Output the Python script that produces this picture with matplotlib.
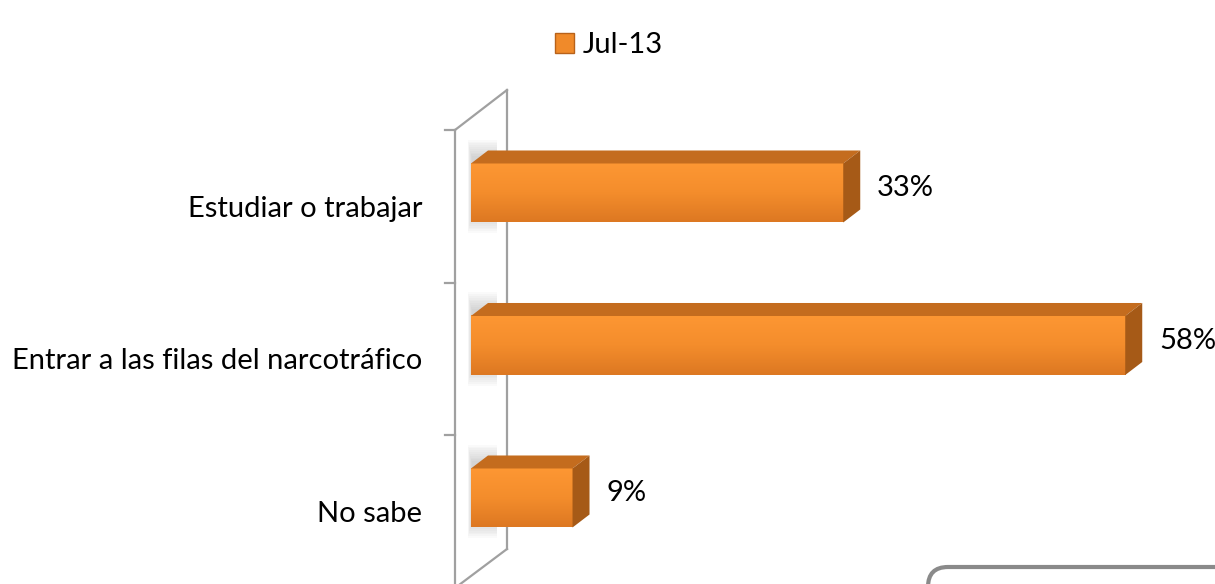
import numpy as np
import matplotlib
matplotlib.use("Agg")
import matplotlib.pyplot as plt
from matplotlib.patches import Polygon, Patch, FancyBboxPatch
from matplotlib.lines import Line2D
from matplotlib.transforms import Affine2D
from matplotlib.colors import LinearSegmentedColormap

categories = ["Estudiar o trabajar", "Entrar a las filas del narcotráfico", "No sabe"]
values = [33, 58, 9]
series_name = "Jul-13"

W, H = 1215, 584
plt.rcParams['font.family'] = ['Lato', 'DejaVu Sans']
fs = 21

fig = plt.figure(figsize=(W / 100, H / 100), dpi=100)

# pixel layout
x0_px, px_per_pct = 471, 11.28
top_px, band_px = 130, 152.5
xmax = 60
ax = fig.add_axes([x0_px / W, 1 - (top_px + 3 * band_px) / H,
                   xmax * px_per_pct / W, 3 * band_px / H])

# 3d depth offset in data units
dx = 17 / px_per_pct
dy = -13 / band_px
bar_h = 59 / band_px
offs = 0.413

front_cmap = LinearSegmentedColormap.from_list("front", ["#FD9733", "#F48D2C", "#DD7822"])
grad = np.linspace(0, 1, 64).reshape(-1, 1)

for i, v in enumerate(values):
    yc = i + offs
    top = yc - bar_h / 2
    bot = yc + bar_h / 2
    # soft shadow on the wall, behind the bar
    for k in range(10):
        sx = 0.04 * k
        sy = 0.012 * k
        ax.add_patch(Polygon([(-0.3 + sx, top + dy - 0.07 + sy),
                              (dx + 0.8, top + dy - 0.07 + sy),
                              (dx + 0.8, bot + 0.07 - sy),
                              (-0.3 + sx, bot + 0.07 - sy)],
                             closed=True, facecolor="#808080", alpha=0.035,
                             edgecolor="none", clip_on=False, zorder=2))
    # front face
    ax.imshow(grad, cmap=front_cmap, aspect="auto", extent=(0, v, bot, top),
              zorder=3, interpolation="bicubic")
    # top face
    ax.add_patch(Polygon([(0, top), (v, top), (v + dx, top + dy), (dx, top + dy)],
                         closed=True, facecolor="#C46C1E", edgecolor="none",
                         zorder=3, clip_on=False))
    # side face
    ax.add_patch(Polygon([(v, top), (v + dx, top + dy), (v + dx, bot + dy), (v, bot)],
                         closed=True, facecolor="#A65A17", edgecolor="none",
                         zorder=3, clip_on=False))
    ax.text(v + 3.0, yc - 0.03, f"{v}%", va="center", ha="left", fontsize=fs,
            color="#000000")

ax.set_xlim(0, xmax)
ax.set_ylim(3, 0)
ax.set_yticks([i + 0.5 for i in range(len(categories))])
ax.set_yticklabels(categories, fontsize=fs)
ax.tick_params(axis="y", length=0, pad=35)
ax.set_xticks([])
for s in ax.spines.values():
    s.set_visible(False)
ax.patch.set_alpha(0)

# wall outline, drawn in pixel coordinates behind the bars
pix = Affine2D().scale(1 / W, -1 / H).translate(0, 1) + fig.transFigure
wall = "#A0A0A0"
def wline(xs, ys):
    ax.add_line(Line2D(xs, ys, color=wall, lw=1.6, transform=pix,
                       clip_on=False, zorder=1))

wline([455, 455], [130, 600])
wline([455, 507], [130, 90])
wline([507, 507], [90, 549])
wline([507, 455], [549, 588])
for i in range(3):
    ty = top_px + band_px * i
    wline([445, 455], [ty, ty])

ax.legend(handles=[Patch(facecolor="#F08A2A", edgecolor="#B8621A")],
          labels=[series_name], loc="upper center", frameon=False,
          bbox_to_anchor=(609 / W, 1 - 6 / H), bbox_transform=fig.transFigure,
          fontsize=fs, handlelength=0.65, handleheight=0.65, handletextpad=0.3)

# partially visible rounded box in the lower right
fig.add_artist(FancyBboxPatch((9.28, -0.6), 3.5, 0.77,
                              boxstyle="round,pad=0,rounding_size=0.2",
                              transform=fig.dpi_scale_trans, facecolor="none",
                              edgecolor="#8A8A8A", lw=3))

fig.savefig("out.png", dpi=100)
